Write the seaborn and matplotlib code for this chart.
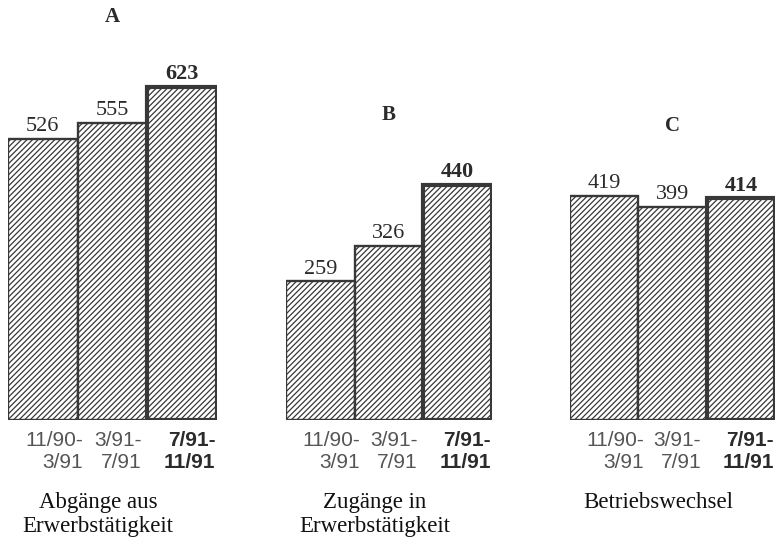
import matplotlib
matplotlib.use("Agg")
import matplotlib.pyplot as plt
import seaborn as sns

# Daten aus der Vorlage
groups = ["A", "B", "C"]
periods = ["11/90-\n3/91", "3/91-\n7/91", "7/91-\n11/91"]
abgaenge = [526, 555, 623]
zugaenge = [259, 326, 440]
wechsel = [419, 399, 414]
group_titles = ["Abgänge aus\nErwerbstätigkeit", "Zugänge in\nErwerbstätigkeit", "Betriebswechsel"]
series = [abgaenge, zugaenge, wechsel]

sns.set_theme(style="white")
plt.rcParams["hatch.linewidth"] = 0.9
serif = ["Liberation Serif", "DejaVu Serif"]
sans = ["Liberation Sans", "DejaVu Sans"]
edge = "#383838"
txt = "#2b2b2b"

fig = plt.figure(figsize=(7.79, 5.46), dpi=100)
fig.patch.set_facecolor("white")

# Achsenpositionen in Bildanteilen (links, Breite)
lefts = [8 / 779, 286 / 779, 570 / 779]
widths = [209 / 779, 206 / 779, 205 / 779]
bottom = 126 / 546
height = 420 / 546
ymax = 785

for k in range(3):
    ax = fig.add_axes([lefts[k], bottom, widths[k], height])
    vals = series[k]
    sns.barplot(x=periods, y=vals, ax=ax, color="white", width=1.0,
                edgecolor=edge, linewidth=1.7, saturation=1)
    for i, p in enumerate(ax.patches):
        p.set_hatch("//////")
        p.set_facecolor("white")
        p.set_edgecolor(edge)
        if i == 2:
            p.set_linewidth(3.0)
            p.set_zorder(3)
    ax.set_xlim(-0.5, 2.5)
    ax.set_ylim(0, ymax)
    ax.set_facecolor("none")
    for s in ax.spines.values():
        s.set_visible(False)
    ax.set_yticks([])
    ax.set_xticks([0.58, 1.42, 2.48])
    ax.set_xticklabels(periods, ha="right", multialignment="right",
                       family=sans, fontsize=15, color="#555555",
                       linespacing=1.2)
    ax.tick_params(axis="x", length=0, pad=8)
    ax.get_xticklabels()[2].set_fontweight("bold")
    ax.get_xticklabels()[2].set_color(txt)
    ax.set_xlabel("")

    # Werte ueber den Balken
    for i, v in enumerate(vals):
        ax.annotate(str(v), (i, v), xytext=(0, 2), textcoords="offset points",
                    ha="center", va="bottom", fontsize=16,
                    family=serif, color=txt,
                    fontweight="bold" if i == 2 else "normal")

    # Buchstabe der Gruppe
    ax.text(1, max(vals) + 130, groups[k], ha="center", va="center",
            fontsize=15, fontweight="bold", family=serif, color=txt)

    # Untertitel
    ax.text(0.43, -0.172, group_titles[k], transform=ax.transAxes,
            ha="center", va="top", fontsize=16.5, family=serif, color="#111111",
            linespacing=1.2)

fig.savefig("out.png", dpi=100, facecolor="white")
